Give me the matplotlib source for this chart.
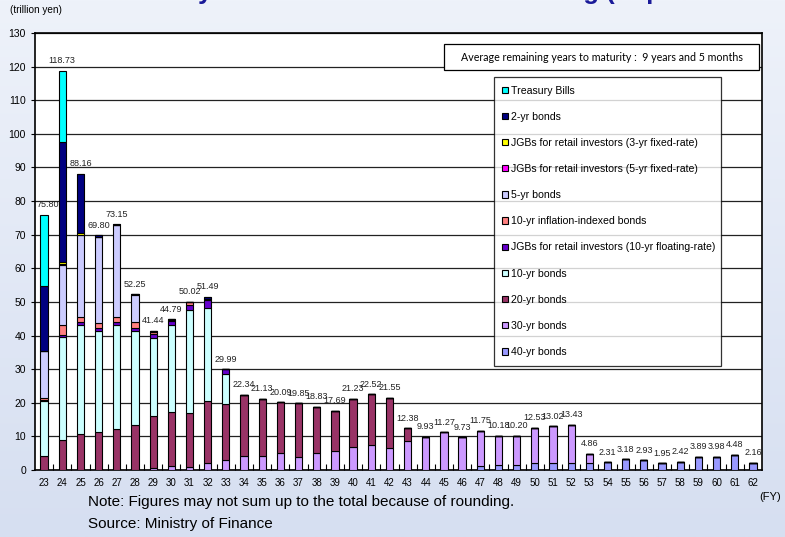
import numpy as np
import matplotlib
matplotlib.use("Agg")
import matplotlib.pyplot as plt
from matplotlib.patches import Rectangle
from matplotlib.colors import LinearSegmentedColormap

years = list(range(23, 63))

# stacked components, trillion yen (bottom -> top)
bond40 = [0, 0, 0, 0, 0, 0, 0, 0, 0, 0,
          0, 0, 0, 0, 0, 0, 0, 0, 0, 0,
          0, 0, 0, 0, 1.1, 1.4, 1.4, 2.1, 2.1, 2.1,
          2.1, 2.31, 3.18, 2.93, 1.95, 2.42, 3.89, 3.98, 4.48, 2.16]
bond30 = [0, 0, 0, 0, 0, 0, 0.5, 1.1, 0.8, 2.1,
          2.9, 4.2, 4.1, 5.2, 3.8, 5.2, 5.7, 6.9, 7.4, 6.4,
          8.6, 9.93, 11.27, 9.73, 10.65, 8.78, 8.8, 10.43, 10.92, 11.33,
          2.76, 0, 0, 0, 0, 0, 0, 0, 0, 0]
bond20 = [4.3, 9.0, 10.8, 11.2, 12.2, 13.4, 15.6, 16.1, 16.2, 18.3,
          16.8, 18.14, 17.03, 14.89, 16.05, 13.63, 11.99, 14.33, 15.12, 15.15,
          3.78, 0, 0, 0, 0, 0, 0, 0, 0, 0,
          0, 0, 0, 0, 0, 0, 0, 0, 0, 0]
bond10 = [16.1, 30.7, 32.4, 30.1, 31.0, 28.0, 23.3, 26.0, 30.7, 27.9,
          8.9] + [0] * 29
float10 = [0.5, 0.6, 0.8, 0.9, 0.8, 0.8, 1.2, 1.0, 1.3, 2.4,
           1.39] + [0] * 29
infl10 = [0.6, 2.9, 1.5, 1.5, 1.6, 1.8, 0.6, 0.4, 0.9, 0.3] + [0] * 30
bond5 = [13.8, 17.9, 24.3, 25.5, 27.3, 8.0] + [0] * 34
retail5 = [0.1, 0.3, 0.2, 0.1, 0.1, 0.25, 0.24, 0.19, 0.12] + [0] * 31
retail3 = [0, 0.6, 0.5, 0.1, 0] + [0] * 35
bond2 = [19.3, 35.5, 17.66, 0.4, 0.15, 0, 0, 0, 0, 0.49] + [0] * 30
tbills = [21.2, 21.23] + [0] * 38

totals = ["75.80", "118.73", "88.16", "69.80", "73.15", "52.25", "41.44", "44.79", "50.02", "51.49",
          "29.99", "22.34", "21.13", "20.09", "19.85", "18.83", "17.69", "21.23", "22.52", "21.55",
          "12.38", "9.93", "11.27", "9.73", "11.75", "10.18", "10.20", "12.53", "13.02", "13.43",
          "4.86", "2.31", "3.18", "2.93", "1.95", "2.42", "3.89", "3.98", "4.48", "2.16"]

series = [
    ("40-yr bonds", bond40, "#9999ff"),
    ("30-yr bonds", bond30, "#cc99ff"),
    ("20-yr bonds", bond20, "#993366"),
    ("10-yr bonds", bond10, "#ccffff"),
    ("JGBs for retail investors (10-yr floating-rate)", float10, "#6600cc"),
    ("10-yr inflation-indexed bonds", infl10, "#ff8080"),
    ("5-yr bonds", bond5, "#ccccff"),
    ("JGBs for retail investors (5-yr fixed-rate)", retail5, "#ff00ff"),
    ("JGBs for retail investors (3-yr fixed-rate)", retail3, "#ffff00"),
    ("2-yr bonds", bond2, "#000080"),
    ("Treasury Bills", tbills, "#00ffff"),
]

narrow = ["Liberation Sans Narrow", "Liberation Sans", "DejaVu Sans"]

fig = plt.figure(figsize=(7.85, 5.37), dpi=100)

# background gradient
bg = fig.add_axes([0, 0, 1, 1], zorder=-10)
grad = np.linspace(0, 1, 256).reshape(-1, 1)
cmap = LinearSegmentedColormap.from_list("bg", ["#eef2fa", "#d6dff1"])
bg.imshow(grad, aspect="auto", cmap=cmap, extent=[0, 1, 0, 1], origin="upper")
bg.axis("off")

ax = fig.add_axes([35 / 785, 1 - 470 / 537, 727 / 785, 437 / 537])
x = np.arange(len(years))
bottom = np.zeros(len(years))
handles = {}
for name, vals, col in series:
    v = np.array(vals, dtype=float)
    b = ax.bar(x, v, 0.4, bottom=bottom, color=col, edgecolor="black", linewidth=0.8, zorder=3)
    handles[name] = b
    bottom += v

for i, lab in enumerate(totals):
    dx = 3 if i == 0 else 0
    ax.annotate(lab, (x[i], bottom[i]), xytext=(dx, 4), textcoords="offset points",
                ha="center", va="bottom", fontsize=6.5, family=narrow, color="#222222", zorder=7)

ax.set_xlim(-0.5, len(years) - 0.5)
ax.set_ylim(0, 130)
ax.set_yticks(np.arange(0, 131, 10))
ax.set_xticks(x)
ax.set_xticklabels([str(y) for y in years], fontsize=7, family=narrow)
ax.set_xticks(x[:-1] + 0.5, minor=True)
ax.tick_params(axis="x", which="major", length=0, pad=6)
ax.tick_params(axis="x", which="minor", direction="in", length=4, width=0.8)
ax.tick_params(axis="y", length=3, width=0.8, labelsize=7.5)
for t in ax.get_yticklabels():
    t.set_family(narrow)
ax.grid(axis="y", color="#222222", linewidth=0.9, zorder=0)
ax.set_axisbelow(True)
for s in ax.spines.values():
    s.set_linewidth(1.2)

# average remaining box
ax.add_patch(Rectangle((0.563, 0.915), 0.433, 0.06, transform=ax.transAxes,
                       facecolor="white", edgecolor="black", linewidth=0.9, zorder=5))
ax.text(0.78, 0.945, "Average remaining years to maturity :  9 years and 5 months",
        transform=ax.transAxes, ha="center", va="center", fontsize=7.7,
        family=["Lato", "DejaVu Sans"], zorder=6)

order = [s[0] for s in series][::-1]
leg = ax.legend([handles[n] for n in order], order, loc="upper left",
                bbox_to_anchor=(0.631, 0.236, 0.313, 0.663), mode="expand",
                fontsize=7.6, frameon=True, fancybox=False, edgecolor="black",
                handlelength=0.55, handleheight=0.55, handletextpad=0.3,
                labelspacing=1.53, borderpad=0.8, borderaxespad=0)
leg.get_frame().set_linewidth(0.9)
leg.set_zorder(6)
for t in leg.get_texts():
    t.set_family(narrow)

fig.text(10 / 785, 1 - 10 / 537, "(trillion yen)", fontsize=7.2, family=narrow, va="center")
fig.text(770 / 785, 1 - 497 / 537, "(FY)", fontsize=8, family="Liberation Sans", ha="center", va="center")
fig.text(88 / 785, 1 - 502 / 537, "Note: Figures may not sum up to the total because of rounding.",
         fontsize=11, family=narrow, va="center")
fig.text(88 / 785, 1 - 524 / 537, "Source: Ministry of Finance",
         fontsize=11, family=narrow, va="center")
fig.text(112 / 785, 1 + 1 / 537, "Maturity Structure of JGBs Outstanding (Expected Amount of Redemption)",
         fontsize=18.5, family="Liberation Sans", weight="bold", color="#1a1a99", va="baseline")

fig.savefig("out.png", dpi=100)
